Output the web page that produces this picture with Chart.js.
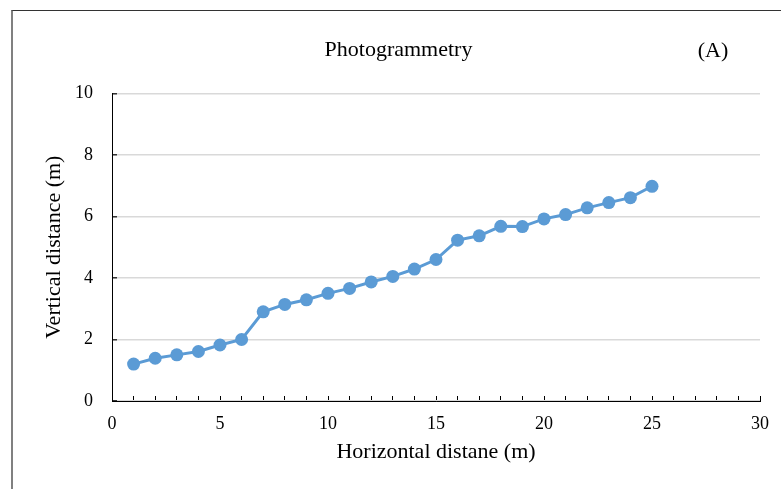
<!DOCTYPE html>
<html lang="en">
  <head>
    <meta charset="UTF-8" />
    <title>Photogrammetry</title>
    <script src="https://cdn.jsdelivr.net/npm/chart.js@4.4.1/dist/chart.umd.min.js"></script>
    <style>
      body {
        margin: 0;
        background: #fff;
      }
      #frame {
        position: absolute;
        left: 11px;
        top: 10px;
        width: 800px;
        height: 500px;
        border-left: 2px solid #808080;
        border-top: 1px solid #333;
      }
      #wrap {
        position: absolute;
        left: 0;
        top: 0;
        width: 781px;
        height: 489px;
      }
    </style>
  </head>
  <body>
    <div id="frame"></div>
    <div id="wrap">
      <canvas id="profile" width="781" height="489"></canvas>
    </div>

    <script>
      // horizontal distance (m) and measured height (m)
      const distances = [1, 2, 3, 4, 5, 6, 7, 8, 9, 10, 11, 12, 13, 14, 15, 16, 17, 18, 19, 20, 21, 22, 23, 24, 25];
      const heights = [1.2, 1.39, 1.5, 1.61, 1.82, 2.0, 2.9, 3.14, 3.29, 3.5, 3.66, 3.87, 4.05, 4.29, 4.6, 5.23, 5.37, 5.68, 5.67, 5.92, 6.06, 6.28, 6.45, 6.61, 6.98];
      const xRange = [0, 30];
      const yRange = [0, 10];

      const serif = "'Liberation Serif', 'Times New Roman', serif";

      // panel tag in the top right corner
      const panelTag = {
        id: "panelTag",
        afterDraw(chart) {
          const c = chart.ctx;
          c.save();
          c.font = "22px " + serif;
          c.fillStyle = "#000";
          c.textAlign = "center";
          c.textBaseline = "middle";
          c.fillText("(A)", 713, 51);
          c.restore();
        },
      };

      const ctx = document.getElementById("profile").getContext("2d");
      const chart = new Chart(ctx, {
        type: "line",
        data: {
          datasets: [
            {
              label: "Photogrammetry",
              data: distances.map((d, i) => ({ x: d, y: heights[i] })),
              borderColor: "#5b9bd5",
              backgroundColor: "#5b9bd5",
              borderWidth: 3,
              pointRadius: 6.5,
              pointHoverRadius: 6.5,
              pointBorderWidth: 0,
              tension: 0,
            },
          ],
        },
        plugins: [panelTag],
        options: {
          responsive: false,
          animation: false,
          layout: {
            padding: { left: 37, right: 21, top: 10, bottom: 20 },
          },
          plugins: {
            legend: { display: false },
            tooltip: { enabled: false },
            title: {
              display: true,
              text: "Photogrammetry",
              color: "#000",
              font: { family: serif, size: 22, weight: "normal" },
              padding: { top: 27, bottom: 30 },
            },
          },
          scales: {
            x: {
              type: "linear",
              min: xRange[0],
              max: xRange[1],
              afterFit(scale) {
                scale.height = 68;
                scale.paddingLeft = 0;
                scale.paddingRight = 0;
              },
              border: { display: true, color: "#000", width: 1 },
              grid: {
                drawOnChartArea: false,
                tickLength: -5,
                tickColor: "#000",
              },
              ticks: {
                stepSize: 1,
                autoSkip: false,
                maxRotation: 0,
                padding: 17,
                color: "#000",
                font: { family: serif, size: 18 },
                callback: (v) => (v % 5 === 0 ? v : ""),
              },
              title: {
                display: true,
                text: "Horizontal distane (m)",
                color: "#000",
                font: { family: serif, size: 22 },
                padding: 4,
              },
            },
            y: {
              min: yRange[0],
              max: yRange[1],
              afterFit(scale) {
                scale.width = 75;
              },
              border: { display: true, color: "#000", width: 1 },
              grid: {
                color: "#d9d9d9",
                lineWidth: 1.5,
                tickLength: -5,
                tickColor: "#333",
              },
              ticks: {
                stepSize: 2,
                padding: 24,
                color: "#000",
                font: { family: serif, size: 18 },
              },
              title: {
                display: true,
                text: "Vertical distance (m)",
                color: "#000",
                font: { family: serif, size: 22 },
                padding: 4,
              },
            },
          },
        },
      });
    </script>
  </body>
</html>
